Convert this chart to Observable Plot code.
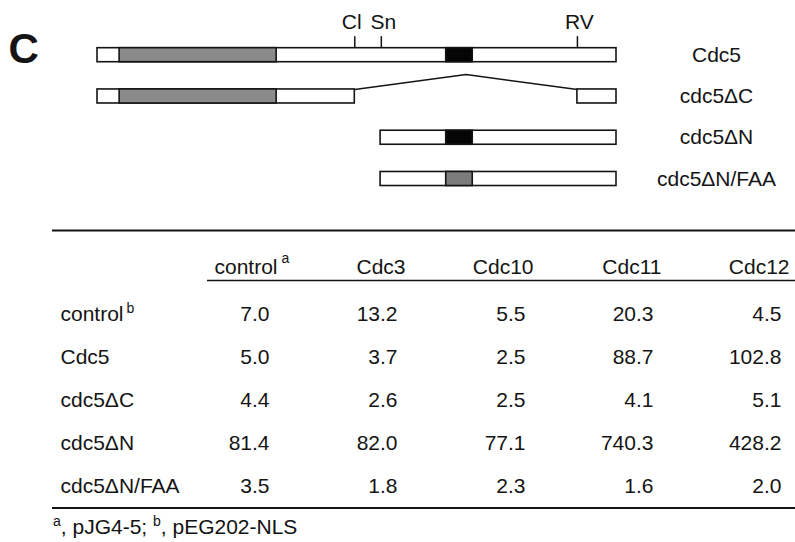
<!DOCTYPE html>
<html>
<head>
<meta charset="utf-8">
<script src="https://cdn.jsdelivr.net/npm/d3@7"></script>
<script src="https://cdn.jsdelivr.net/npm/@observablehq/plot@0.6"></script>
<style>
  html, body { margin: 0; padding: 0; background: #fff; }
  body { width: 795px; height: 542px; overflow: hidden; font-family: "Liberation Sans", Arial, sans-serif; color: #111; }
  svg { display: block; }
  #foot { font-size: 21px; line-height: 30px; padding-left: 53px; white-space: nowrap; }
  #foot sup { font-size: 14px; vertical-align: baseline; position: relative; top: -8px; }
</style>
</head>
<body>
<div id="chart"></div>
<script>
// ---------- construct diagram data (positions in Cdc5 residues) ----------
const constructs = ["Cdc5", "cdc5ΔC", "cdc5ΔN", "cdc5ΔN/FAA"];
const cdc5Length = 705;
const segments = [
  {construct: "Cdc5", start: 1, end: 705},
  {construct: "cdc5ΔC", start: 1, end: 350},
  {construct: "cdc5ΔC", start: 652, end: 705},
  {construct: "cdc5ΔN", start: 385, end: 705},
  {construct: "cdc5ΔN/FAA", start: 385, end: 705}
];
const domains = [
  {construct: "Cdc5", start: 31, end: 244, kind: "kinase"},
  {construct: "cdc5ΔC", start: 31, end: 244, kind: "kinase"},
  {construct: "Cdc5", start: 474, end: 510, kind: "box"},
  {construct: "cdc5ΔN", start: 474, end: 510, kind: "box"},
  {construct: "cdc5ΔN/FAA", start: 474, end: 510, kind: "FAA"}
];
const sites = [
  {name: "Cl", pos: 350},
  {name: "Sn", pos: 386},
  {name: "RV", pos: 652}
];
const deletion = {construct: "cdc5ΔC", from: 350, to: 652};

// ---------- table data ----------
const columns = ["control", "Cdc3", "Cdc10", "Cdc11", "Cdc12"];
const rowNames = ["control", "Cdc5", "cdc5ΔC", "cdc5ΔN", "cdc5ΔN/FAA"];
const valControl = [7.0, 5.0, 4.4, 81.4, 3.5];
const valCdc3 = [13.2, 3.7, 2.6, 82.0, 1.8];
const valCdc10 = [5.5, 2.5, 2.5, 77.1, 2.3];
const valCdc11 = [20.3, 88.7, 4.1, 740.3, 1.6];
const valCdc12 = [4.5, 102.8, 5.1, 428.2, 2.0];
const headerSup = {control: "a"};
const rowSup = {control: "b"};

// ---------- styling ----------
const INK = "#141414";
const FONT = "Liberation Sans, Arial, Helvetica, sans-serif";
const kindFill = {kinase: "#8a8a8a", box: "#050505", FAA: "#7c7c7c"};
const BAR = 0.17;   // half bar thickness, in track units
const TICK = 0.28;  // restriction-site tick length, in track units
const LIFT = 0.36;  // height of the deletion loop, in track units

const track = (c) => constructs.indexOf(c);

const loop = [
  {pos: deletion.from, y: track(deletion.construct) - BAR},
  {pos: (deletion.from + deletion.to) / 2, y: track(deletion.construct) - BAR - LIFT},
  {pos: deletion.to, y: track(deletion.construct) - BAR}
];

const diagram = Plot.plot({
  width: 795,
  height: 200,
  margin: 0,
  style: {fontFamily: FONT, color: INK, background: "white"},
  x: {domain: [1, cdc5Length], range: [97, 616], axis: null},
  y: {domain: [0, constructs.length - 1], range: [54.7, 178.5], axis: null},
  marks: [
    Plot.text(["C"], {text: d => d, frameAnchor: "top-left", dx: 8, dy: 33, textAnchor: "start",
      fontSize: 42, fontWeight: "bold", fill: INK}),
    Plot.line(loop, {x: "pos", y: "y", stroke: INK, strokeWidth: 1.5}),
    Plot.rect(segments, {x1: "start", x2: "end", y1: d => track(d.construct) - BAR, y2: d => track(d.construct) + BAR,
      fill: "white", stroke: INK, strokeWidth: 1.6}),
    Plot.rect(domains, {x1: "start", x2: "end", y1: d => track(d.construct) - BAR, y2: d => track(d.construct) + BAR,
      fill: d => kindFill[d.kind], stroke: INK, strokeWidth: 1.6}),
    Plot.ruleX(sites, {x: "pos", y1: -BAR, y2: -BAR - TICK, stroke: INK, strokeWidth: 1.5}),
    Plot.text(sites.slice(0, 1), {x: "pos", y: -BAR - TICK, dy: -14, dx: -3, text: "name", fontSize: 21, fill: INK}),
    Plot.text(sites.slice(1), {x: "pos", y: -BAR - TICK, dy: -14, dx: 2, text: "name", fontSize: 21, fill: INK}),
    Plot.text(constructs, {y: (d, i) => i, text: d => d, frameAnchor: "right", dx: -79, textAnchor: "middle",
      fontSize: 21, fill: INK})
  ]
});

// ---------- table ----------
const colValues = {control: valControl, Cdc3: valCdc3, Cdc10: valCdc10, Cdc11: valCdc11, Cdc12: valCdc12};
const cells = [];
columns.forEach(c => rowNames.forEach((r, i) => cells.push({col: c, row: r, value: colValues[c][i]})));
const fmt = d3.format(".1f");

const table = Plot.plot({
  width: 795,
  height: 312,
  marginLeft: 52,
  marginRight: 0,
  marginTop: 0,
  marginBottom: 0,
  style: {fontFamily: FONT, color: INK, background: "white"},
  x: {type: "point", domain: columns, range: [267, 782], padding: 0, axis: null},
  y: {type: "point", domain: rowNames, range: [114, 286.5], padding: 0, axis: null},
  marks: [
    // rules
    Plot.ruleY([rowNames[0]], {dy: -84, stroke: INK, strokeWidth: 2}),
    Plot.ruleY([rowNames[0]], {dy: -34, insetLeft: 155, stroke: INK, strokeWidth: 1.6}),
    Plot.ruleY([rowNames[rowNames.length - 1]], {dy: 21.5, stroke: INK, strokeWidth: 2}),
    // header
    Plot.text(columns, {x: d => d, text: d => d, frameAnchor: "top", dy: 59, dx: 8, textAnchor: "end",
      fontSize: 21, fill: INK}),
    Plot.text(columns.filter(c => headerSup[c]), {x: d => d, text: d => headerSup[d], frameAnchor: "top",
      dy: 53, dx: 12, textAnchor: "start", fontSize: 14, fill: INK}),
    // row labels
    Plot.text(rowNames, {y: d => d, text: d => d, frameAnchor: "left", dx: 8, textAnchor: "start",
      fontSize: 21, fill: INK}),
    Plot.text(rowNames.filter(r => rowSup[r]), {y: d => d, text: d => rowSup[d], frameAnchor: "left", dx: 74, dy: -6,
      textAnchor: "start", fontSize: 14, fill: INK}),
    // values
    Plot.text(cells, {x: "col", y: "row", text: d => fmt(d.value), textAnchor: "end", fontSize: 21, fill: INK})
  ]
});

const root = document.getElementById("chart");
root.appendChild(diagram);
root.appendChild(table);
const foot = document.createElement("div");
foot.id = "foot";
foot.innerHTML = "<sup>a</sup>, pJG4-5; <sup>b</sup>, pEG202-NLS";
root.appendChild(foot);
</script>
</body>
</html>
